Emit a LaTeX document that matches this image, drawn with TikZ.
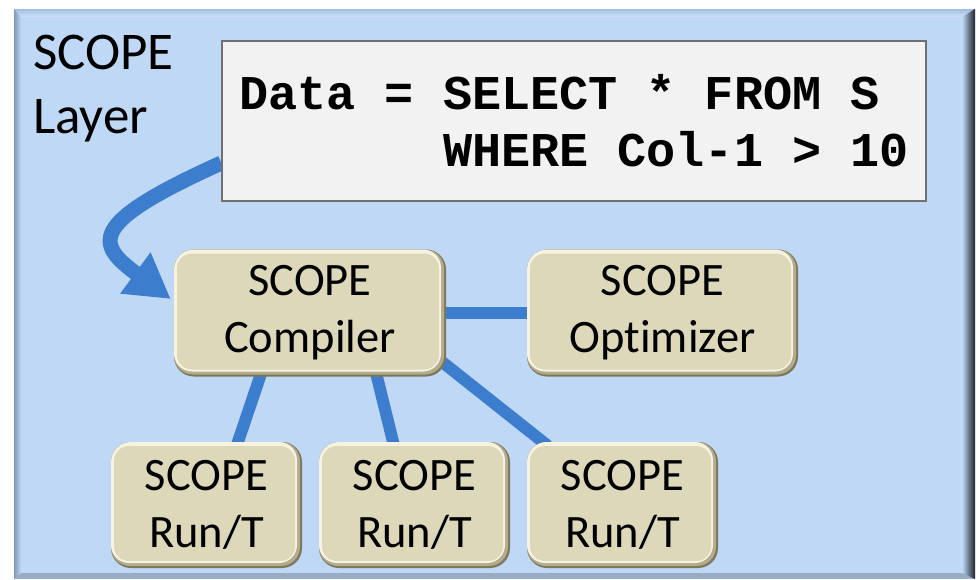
\documentclass[tikz,border=0pt]{standalone}
\usepackage{fontspec}
\setmainfont{Carlito}
\newfontfamily\carl{Carlito}[Ligatures=NoCommon]
\newfontfamily\codefont{Liberation Mono}
\newcommand\msp{\hspace*{0.6em}}
\usetikzlibrary{arrows.meta}
\definecolor{panelblue}{HTML}{BFD8F5}
\definecolor{panelleft}{HTML}{8197B3}
\definecolor{paneltop}{HTML}{9EBDE2}
\definecolor{panelbot}{HTML}{98ACC6}
\definecolor{paneldark}{HTML}{1C232C}
\definecolor{linkblue}{HTML}{3D7DCE}
\definecolor{tanbase}{HTML}{DDD8BA}
\definecolor{tandark}{HTML}{7E7658}
\definecolor{tanmid}{HTML}{B2AB8C}
\definecolor{tanhi}{HTML}{F6F3E0}
\definecolor{codefill}{HTML}{F2F2F2}
\definecolor{codeline}{HTML}{6F6F6F}
\pgfdeclarelayer{bg}
\pgfdeclarelayer{links}
\pgfsetlayers{bg,links,main}
\tikzset{
  tanbox/.style={rounded corners=20pt, fill=tandark, inner sep=0pt,
    minimum height=127pt, align=center,
    font=\carl\fontsize{46.5}{57}\selectfont,
    path picture={
      \fill[tanmid, rounded corners=19pt]
        ([shift={(0pt,2pt)}]path picture bounding box.south west) rectangle
        ([shift={(-2pt,0pt)}]path picture bounding box.north east);
      \fill[tanhi, rounded corners=18pt]
        ([shift={(0pt,5pt)}]path picture bounding box.south west) rectangle
        ([shift={(-5pt,0pt)}]path picture bounding box.north east);
      \fill[tanbase, rounded corners=15pt]
        ([shift={(3pt,7pt)}]path picture bounding box.south west) rectangle
        ([shift={(-7pt,-4pt)}]path picture bounding box.north east);
    }},
  codebox/.style={rectangle, fill=codefill, draw=codeline, line width=1.3pt,
    minimum width=704pt, minimum height=160pt, inner sep=0pt, align=left,
    font=\codefont\bfseries\fontsize{48.5}{57}\selectfont},
  layerlabel/.style={inner sep=0pt, anchor=north west, align=left,
    font=\carl\fontsize{53}{64}\selectfont},
  conn/.style={draw=linkblue, line width=12pt},
  flowarrow/.style={draw=linkblue, line width=15pt,
    -{Triangle[length=44pt,width=48pt]}}
}
\begin{document}
\begin{tikzpicture}[x=1pt,y=-1pt]
\useasboundingbox (0,0) rectangle (977,579);
% panel
\begin{pgfonlayer}{bg}
  \fill[panelbot] (14,9) rectangle (975,579);
  \shade[left color=panelleft, right color=panelblue] (14,9) -- (21,16) -- (21,573) -- (14,579) -- cycle;
  \shade[top color=paneltop, bottom color=panelblue!70!white] (14,9) -- (975,9) -- (962,17) -- (21,17) -- cycle;
  \shade[left color=panelblue, right color=paneldark] (962,17) -- (975,9) -- (975,579) -- (962,573) -- cycle;
  \fill[panelblue] (21,17) rectangle (962,573);
\end{pgfonlayer}

\node[layerlabel] (layer) at (33,35) {SCOPE\\Layer};

\node[codebox] (code) at (574,121) {Data\msp=\msp SELECT\msp*\msp FROM\msp S\\\hspace*{4.2em}WHERE\msp Col-1\msp>\msp 10};

\node[tanbox, minimum width=272pt] (comp) at (310,313) {SCOPE\\Compiler};
\node[tanbox, minimum width=271pt] (opt) at (662.5,313) {SCOPE\\Optimizer};
\node[tanbox, minimum width=191pt, minimum height=126pt] (run1) at (206.5,505) {SCOPE\\Run/T};
\node[tanbox, minimum width=191pt, minimum height=126pt] (run2) at (414.5,505) {SCOPE\\Run/T};
\node[tanbox, minimum width=191pt, minimum height=126pt] (run3) at (622.5,505) {SCOPE\\Run/T};

\begin{pgfonlayer}{links}
  \draw[conn] (comp.east) -- (opt.west);
  \draw[conn] ([xshift=-48pt,yshift=6pt]comp.south) -- ([xshift=29.5pt,yshift=-6pt]run1.north);
  \draw[conn] ([xshift=65.5pt,yshift=6pt]comp.south) -- ([xshift=-20pt,yshift=-6pt]run2.north);
  \draw[conn] ([xshift=-10pt,yshift=19.5pt]comp.south east) -- ([xshift=21pt,yshift=-4pt]run3.north west);
  \draw[flowarrow] ([yshift=-42pt]code.west) .. controls (86,224) and (96,244) .. ([xshift=-3pt,yshift=14pt]comp.west);
\end{pgfonlayer}
\end{tikzpicture}
\end{document}
